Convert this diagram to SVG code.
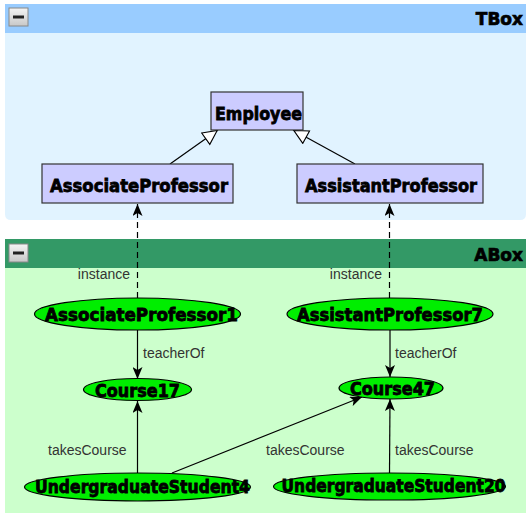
<svg xmlns="http://www.w3.org/2000/svg" width="527" height="516" viewBox="0 0 527 516">
<style>
.hdr{font-family:"DejaVu Sans",Verdana,sans-serif;font-weight:bold;font-size:17px;fill:#000;stroke:#000;stroke-width:0.7}
.cls{fill:#ccccff;stroke:#333;stroke-width:1.2}
.bt{font-family:"DejaVu Sans",Verdana,sans-serif;font-weight:bold;font-size:18px;fill:#000;stroke:#000;stroke-width:0.8}
.ind{fill:#00ee00;stroke:#000;stroke-width:1.2}
.lbl{font-family:"Liberation Sans",Arial,sans-serif;font-size:14px;fill:#333}
.edge{stroke:#000;stroke-width:1.2;fill:none}
.dash{stroke:#000;stroke-width:1.2;fill:none;stroke-dasharray:6,4}
</style>
<defs>
<marker id="arr" viewBox="0 0 12 10" refX="12" refY="5" markerWidth="12" markerHeight="10" markerUnits="userSpaceOnUse" orient="auto">
<path d="M0,0 L12,5 L0,10 L3,5 Z" fill="#000"/>
</marker>
<marker id="tri" viewBox="0 0 16 16" refX="16" refY="8" markerWidth="16" markerHeight="16" markerUnits="userSpaceOnUse" orient="auto">
<path d="M1,1 L15,8 L1,15 Z" fill="#fff" stroke="#000" stroke-width="1.1"/>
</marker>
<linearGradient id="btn" x1="0" y1="0" x2="0" y2="1">
<stop offset="0" stop-color="#f4f4f4"/><stop offset="1" stop-color="#c8c8c8"/>
</linearGradient>
</defs>
<rect width="527" height="516" fill="#fff"/>
<g id="tbox">
<path d="M5,4 H526 V214 Q526,220 520,220 H11 Q5,220 5,214 Z" fill="#e1f3ff"/>
<rect x="5" y="4" width="521" height="29" fill="#99ccff"/>
<rect x="9" y="8" width="19" height="18" fill="url(#btn)" stroke="#888" stroke-width="1"/>
<rect x="13" y="15.5" width="11" height="3" fill="#222"/>
<text class="hdr" x="523" y="24.5" text-anchor="end">TBox</text>
</g>
<g id="abox">
<rect x="5" y="239" width="521" height="274" fill="#ccffcc"/>
<rect x="5" y="239" width="521" height="29" fill="#339966"/>
<rect x="9" y="244" width="19" height="18" fill="url(#btn)" stroke="#888" stroke-width="1"/>
<rect x="13" y="251.5" width="11" height="3" fill="#222"/>
<text class="hdr" x="523" y="260.5" text-anchor="end">ABox</text>
</g>
<g id="connectors">
<line class="edge" x1="170" y1="164" x2="218" y2="130" marker-end="url(#tri)"/>
<line class="edge" x1="355" y1="164" x2="293" y2="130" marker-end="url(#tri)"/>
<line class="dash" x1="137.5" y1="298" x2="137.5" y2="204" marker-end="url(#arr)"/>
<line class="dash" x1="389.5" y1="298" x2="389.5" y2="204" marker-end="url(#arr)"/>
<line class="edge" x1="137.5" y1="330" x2="137.5" y2="379" marker-end="url(#arr)"/>
<line class="edge" x1="390" y1="330" x2="390" y2="377" marker-end="url(#arr)"/>
<line class="edge" x1="137.5" y1="473" x2="137.5" y2="401" marker-end="url(#arr)"/>
<line class="edge" x1="172" y1="473" x2="362" y2="397" marker-end="url(#arr)"/>
<line class="edge" x1="389.5" y1="473" x2="390" y2="399" marker-end="url(#arr)"/>
<text class="lbl" x="130" y="279" text-anchor="end">instance</text>
<text class="lbl" x="382" y="279" text-anchor="end">instance</text>
<text class="lbl" x="143" y="358">teacherOf</text>
<text class="lbl" x="395" y="358">teacherOf</text>
<text class="lbl" x="48" y="455">takesCourse</text>
<text class="lbl" x="266" y="455">takesCourse</text>
<text class="lbl" x="395" y="455">takesCourse</text>
</g>
<g id="Employee">
<rect class="cls" x="211" y="92" width="92" height="38"/>
<text class="bt" x="258.5" y="120" text-anchor="middle" textLength="87" lengthAdjust="spacingAndGlyphs">Employee</text>
</g>
<g id="AssociateProfessor">
<rect class="cls" x="42" y="164" width="191" height="39"/>
<text class="bt" x="139" y="191.5" text-anchor="middle" textLength="178" lengthAdjust="spacingAndGlyphs">AssociateProfessor</text>
</g>
<g id="AssistantProfessor">
<rect class="cls" x="297" y="164" width="186" height="39"/>
<text class="bt" x="391" y="191.5" text-anchor="middle" textLength="172" lengthAdjust="spacingAndGlyphs">AssistantProfessor</text>
</g>
<g id="AssociateProfessor1">
<ellipse class="ind" cx="137.5" cy="314" rx="103" ry="16"/>
<text class="bt" x="141.5" y="321" text-anchor="middle" textLength="193" lengthAdjust="spacingAndGlyphs">AssociateProfessor1</text>
</g>
<g id="AssistantProfessor7">
<ellipse class="ind" cx="390" cy="314" rx="103" ry="16"/>
<text class="bt" x="390" y="321" text-anchor="middle" textLength="186" lengthAdjust="spacingAndGlyphs">AssistantProfessor7</text>
</g>
<g id="Course17">
<ellipse class="ind" cx="137.5" cy="389.5" rx="54" ry="11"/>
<text class="bt" x="137.5" y="396.5" text-anchor="middle" textLength="85" lengthAdjust="spacingAndGlyphs">Course17</text>
</g>
<g id="Course47">
<ellipse class="ind" cx="391" cy="388" rx="52" ry="11"/>
<text class="bt" x="392.5" y="395" text-anchor="middle" textLength="85" lengthAdjust="spacingAndGlyphs">Course47</text>
</g>
<g id="UndergraduateStudent4">
<ellipse class="ind" cx="137.5" cy="487" rx="113" ry="14"/>
<text class="bt" x="142.5" y="492.5" text-anchor="middle" textLength="215" lengthAdjust="spacingAndGlyphs">UndergraduateStudent4</text>
</g>
<g id="UndergraduateStudent20">
<ellipse class="ind" cx="389.5" cy="486.5" rx="116" ry="13.5"/>
<text class="bt" x="393.5" y="492" text-anchor="middle" textLength="224" lengthAdjust="spacingAndGlyphs">UndergraduateStudent20</text>
</g>
</svg>
